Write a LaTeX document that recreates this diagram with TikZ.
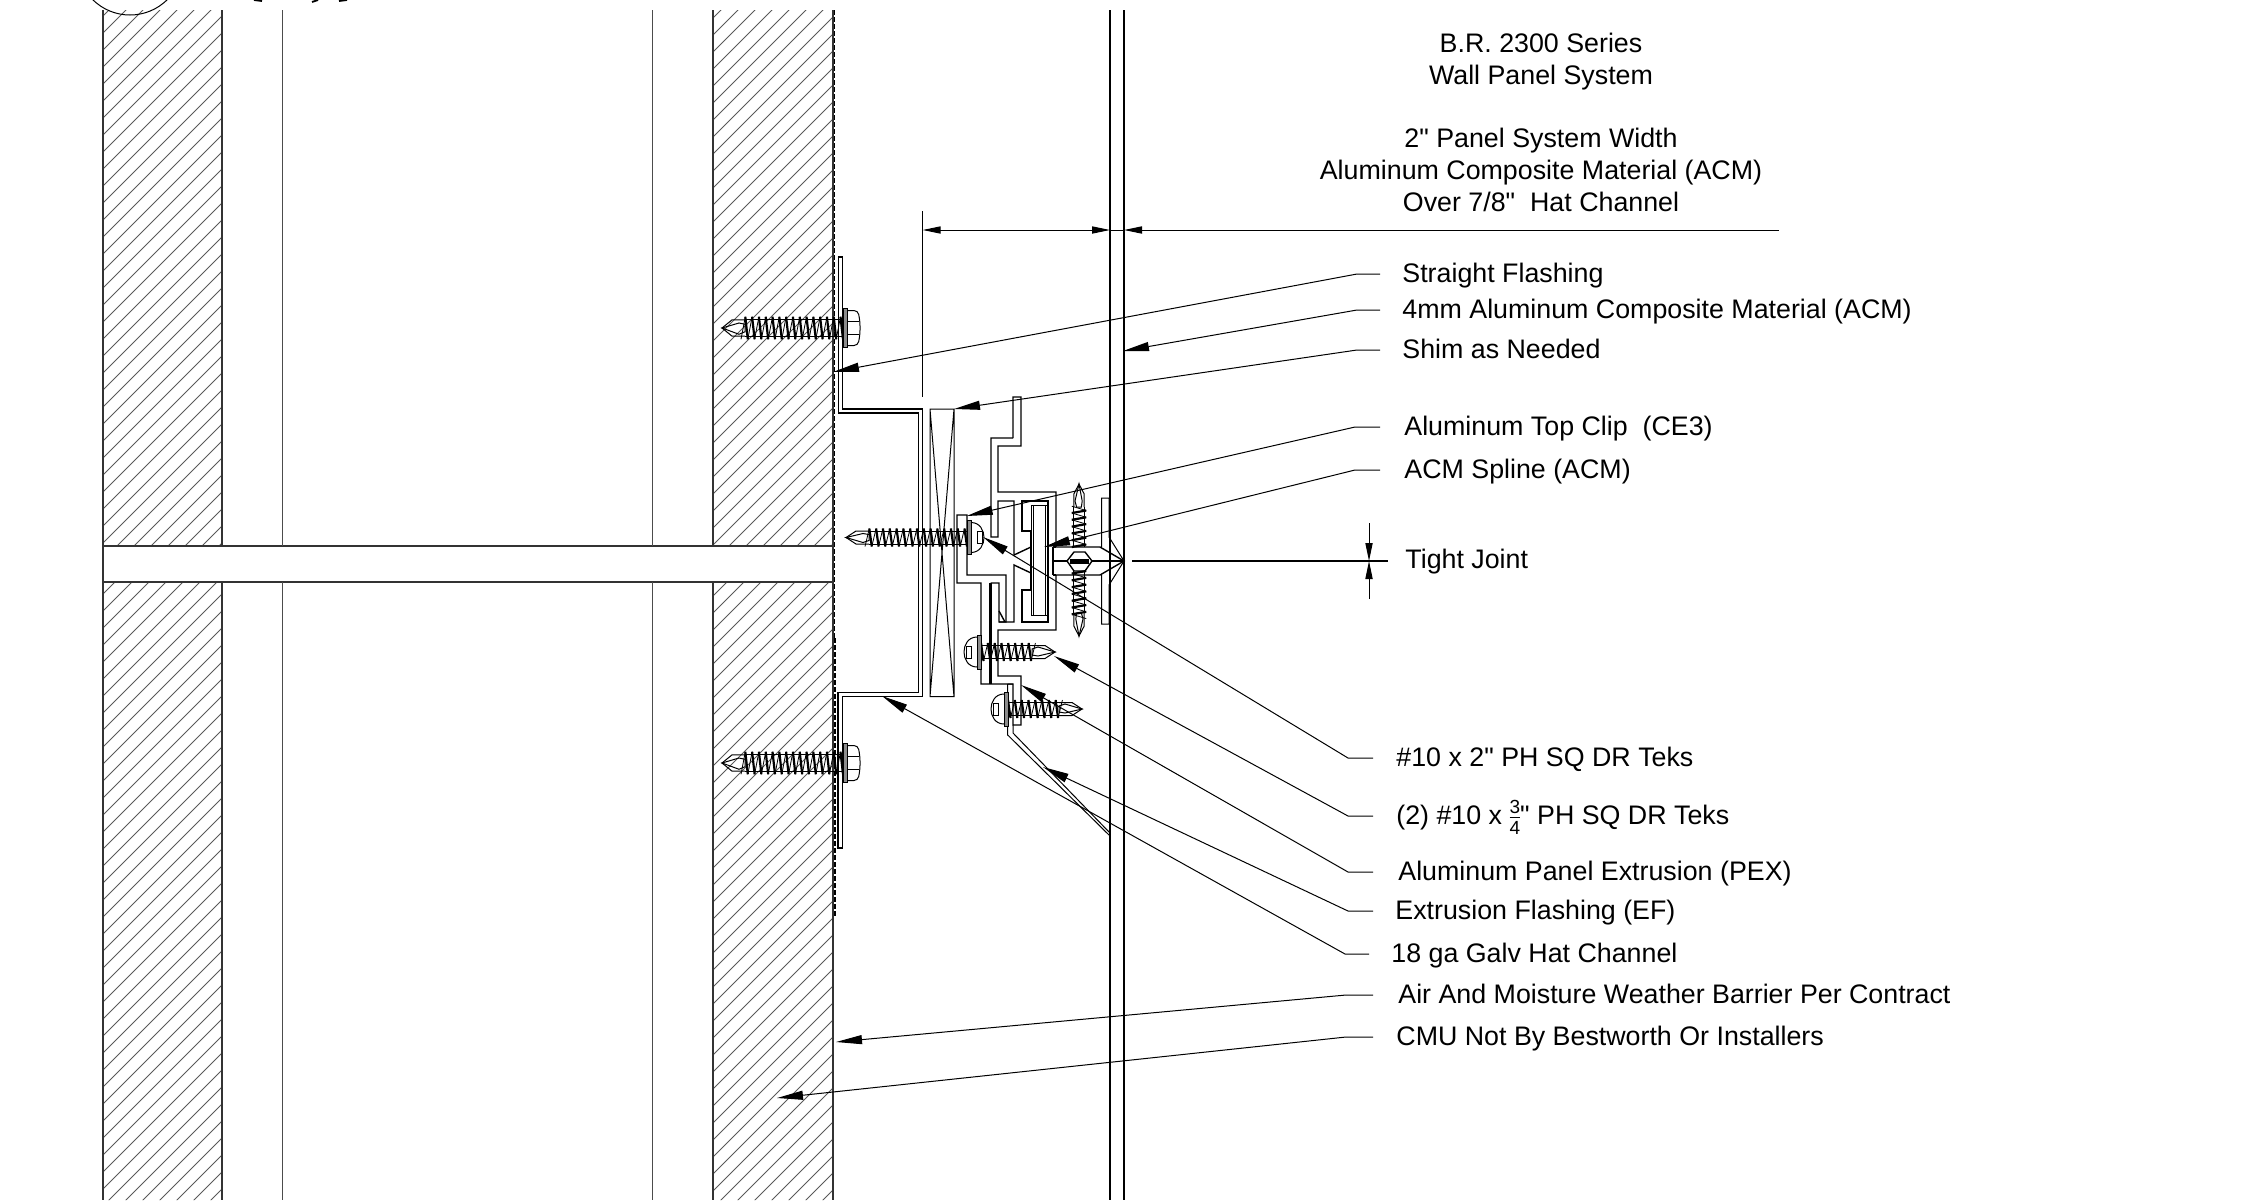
\documentclass[tikz,border=0pt]{standalone}
\usepackage{fontspec}
\newfontfamily\lblfont{Liberation Sans}
\usetikzlibrary{arrows.meta}

\newcommand{\shankrun}[1]{
  \foreach \t in {0,6.8,...,#1} {
    \draw[threadfront] (\t,-9) -- (\t+2.5,9);
    \draw[threadback] (\t+2.5,9) -- (\t+6.8,-9);
  }
  \draw[partthin] (0,-6.5) -- (#1,-6.5) (0,6.5) -- (#1,6.5);
  \draw[partthin] (#1,-6.5) -- (#1+13,-6.5) -- (#1+23,0) -- (#1+13,6.5) -- (#1,6.5);
  \draw[partthin] (#1,-3) -- (#1+6,-5) -- (#1+23,0) -- (#1+6,4) -- (#1,3) -- cycle;
}
\newcommand{\threequarter}{$\vcenter{\hbox{\lblfont\fontsize{9.5pt}{9.5pt}\selectfont 3}\kern1.6pt\hrule\kern1.6pt\hbox{\lblfont\fontsize{9.5pt}{9.5pt}\selectfont 4}}$}

\tikzset{
  x=.5pt, y=-.5pt,
  part/.style={line width=.7pt},
  partthin/.style={line width=.5pt},
  threadfront/.style={line width=1.1pt},
  threadback/.style={line width=.4pt},
  wallline/.style={line width=.85pt, black!80},
  hatchline/.style={line width=.5pt, black!65},
  panelline/.style={line width=1.2pt},
  lbl/.style={anchor=west, inner sep=0pt, text height=10pt, text depth=1.5pt, font=\lblfont\fontsize{13.4pt}{15.9pt}\selectfont},
  leader/.style={line width=.5pt, -{Triangle[length=13pt,width=4.5pt]}},
  dimline/.style={line width=.5pt},
  dimtip/.style={-{Triangle[length=9pt,width=3.6pt]}},
  pics/tekshank/.style={code={
    \shankrun{#1}
  }},
  pics/panscrew/.style={code={
    \shankrun{#1}
    \draw[partthin, fill=black!45] (-4,-17) rectangle (0,17);
    \draw[partthin] (-4,-15) .. controls (-13,-15) and (-17,-7) .. (-17,0) .. controls (-17,7) and (-13,15) .. (-4,15);
    \draw[partthin] (-15,-6) rectangle (-10,6);
  }},
  pics/hexscrew/.style={code={
    \shankrun{#1}
    \draw[partthin, fill=black!45] (-4,-15.5) rectangle (0,15.5);
    \draw[partthin, rounded corners=2pt] (-4,-14) -- (-15,-14) -- (-17,-5) -- (-17,5) -- (-15,14) -- (-4,14);
    \draw[partthin] (-4,-5) -- (-16,-5) (-4,5) -- (-16,5);
  }},
}

\begin{document}
\begin{tikzpicture}
  \useasboundingbox (0,0) rectangle (2248,1200);
  \clip (0,0) rectangle (2248,1200);

  \begin{scope}
    \clip (103,10) rectangle (222,546) (103,582) rectangle (222,1200)
      (713,10) rectangle (833,546) (713,582) rectangle (833,1200);
    \foreach \k in {6,...,120} {
      \draw[hatchline] (17*\k,0) -- (0,17*\k);
    }
  \end{scope}
  \draw[wallline] (103,10) -- (103,1200) (222,10) -- (222,546) (222,582) -- (222,1200)
    (713,10) -- (713,546) (713,582) -- (713,1200) (833,10) -- (833,1200)
    (103,546) -- (833,546) (103,582) -- (833,582);
  \draw[partthin, black!70] (282,10) -- (282,546) (282,582) -- (282,1200)
    (652,10) -- (652,546) (652,582) -- (652,1200);
  \draw[partthin, dash pattern=on 2.5pt off 1pt] (834.5,10) -- (834.5,638);
  \draw[part, dash pattern=on 2.5pt off 1pt] (835,638) -- (835,917);
  \draw[partthin] (130,-38) circle (53);
  \draw[line width=.9pt] (254,0) -- (262,1) (312,2) -- (318,0) (339,1) -- (347,0);

  \draw[panelline] (1110,10) -- (1110,1200) (1124,10) -- (1124,1200);

  \draw[part] (838,848) -- (838,692.7) -- (918.3,692.7) -- (918.3,413) -- (838.7,413) -- (838.7,257)
    -- (842.7,257) -- (842.7,409) -- (922.7,409) -- (922.7,696.7) -- (842.7,696.7) -- (842.7,848) -- cycle;
  \draw[partthin] (930,409) rectangle (954,696.7) (930,409) -- (954,696.7) (954,409) -- (930,696.7);

  \draw[part] (1013,438) -- (1013,397) -- (1021,397) -- (1021,446) -- (998,446) -- (998,492) -- (1056,492)
    -- (1056,547) -- (1100,547) -- (1124,561) -- (1100,575) -- (1056,575) -- (1056,630) -- (998,630)
    -- (998,676) -- (1021,676) -- (1021,725) -- (1013,725) -- (1013,684) -- (981,684) -- (981,583)
    -- (957,583) -- (957,515) -- (967,515) -- (967,575) -- (1006,575) -- (1006,622) -- (999,622) -- (999,583) -- (990.5,583);
  \draw[part] (1013,438) -- (991,438) -- (991,537) -- (998,537) -- (998,501) -- (1014,501) -- (1014,555) -- (1031,547);
  \draw[part] (999,611) -- (1005,622) (999,622) -- (1014,622) -- (1014,565) -- (1031,573);
  \draw[line width=1.1pt] (990.5,583) -- (990.5,684);
  \draw[part] (1031,531) -- (1022,531) -- (1022,501) -- (1048,501) -- (1048,622) -- (1022,622) -- (1022,590) -- (1031,590) -- cycle;
  \draw[partthin] (1031,505) rectangle (1047,615) (1033.5,505) rectangle (1045,615);
  \draw[partthin] (1101.7,547) -- (1101.7,498) -- (1109,498) -- (1109,537) -- (1124,561) -- (1109,585) -- (1109,624) -- (1101.7,624) -- (1101.7,575);
  \draw[part] (1053,547) -- (1053,575) (1053,547) -- (1056,547) (1053,575) -- (1056,575);
  \draw[line width=1pt] (1053,561) -- (1124,561);
  \draw[part, fill=white] (1067,561) -- (1074,552) -- (1085,552) -- (1092,561) -- (1085,571) -- (1074,571) -- cycle;
  \draw[line width=2.5pt] (1070,561) -- (1089,561);
  \draw[partthin] (1007.7,684) -- (1007.7,735) -- (1110,836) (1007.7,684) -- (1013,684) (1013,725) -- (1013,733) -- (1110,833);

  \pic[rotate=180, yscale=1.25] at (843,328) {hexscrew=98};
  \pic[rotate=180, yscale=1.25] at (843,763) {hexscrew=98};
  \pic[rotate=180] at (967,537.5) {panscrew=98};
  \pic at (981,652) {panscrew=51};
  \pic at (1008,709) {panscrew=51};
  \pic[rotate=90, yscale=.8] at (1079,547) {tekshank=40};
  \pic[rotate=-90, yscale=.8] at (1079,571) {tekshank=42};

  \node[align=center, font=\lblfont\fontsize{13.4pt}{15.9pt}\selectfont] (title) at (1541,122.5) {B.R. 2300 Series\\Wall Panel System\\[15.9pt]2" Panel System Width\\Aluminum Composite Material (ACM)\\Over 7/8"\ \ Hat Channel};

  \coordinate (dimleft) at (922.7,230);
  \coordinate (dimmid) at (1110,230);
  \coordinate (dimpanel) at (1124,230);
  \coordinate (dimright) at (1779,230);
  \draw[dimline] (922.7,211) -- (922.7,397);
  \draw[dimline] (dimmid) -- (dimpanel);
  \draw[dimline, {Triangle[length=9pt,width=3.6pt]}-{Triangle[length=9pt,width=3.6pt]}] (dimleft) -- (dimmid);
  \draw[dimline, {Triangle[length=9pt,width=3.6pt]}-] (dimpanel) -- (dimright);

  \node[lbl] (flash) at (1402,274) {Straight Flashing};
  \node[lbl] (acm) at (1402,310) {4mm Aluminum Composite Material (ACM)};
  \node[lbl] (shim) at (1402,350) {Shim as Needed};
  \node[lbl] (clip) at (1404,427) {Aluminum Top Clip\ \ (CE3)};
  \node[lbl] (spline) at (1404,470) {ACM Spline (ACM)};
  \node[lbl] (joint) at (1405,560) {Tight Joint};
  \node[lbl] (tektwo) at (1396,758) {\#10 x 2" PH SQ DR Teks};
  \node[lbl] (tekthree) at (1396,816) {(2) \#10 x \threequarter" PH SQ DR Teks};
  \node[lbl] (pex) at (1398,872) {Aluminum Panel Extrusion (PEX)};
  \node[lbl] (ef) at (1395,911) {Extrusion Flashing (EF)};
  \node[lbl] (hat) at (1391,954) {18 ga Galv Hat Channel};
  \node[lbl] (barrier) at (1398,995) {Air And Moisture Weather Barrier Per Contract};
  \node[lbl] (cmu) at (1396,1037) {CMU Not By Bestworth Or Installers};

  \coordinate (flashtip) at (833,372);
  \coordinate (acmtip) at (1123,351);
  \coordinate (shimtip) at (954,409);
  \coordinate (cliptip) at (966.7,516);
  \coordinate (splinetip) at (1044,547);
  \coordinate (tektwotip) at (983,537);
  \coordinate (tekthreetip) at (1054,656);
  \coordinate (pextip) at (1021,685);
  \coordinate (eftip) at (1043,767);
  \coordinate (hattip) at (882,696);
  \coordinate (barriertip) at (836,1042);
  \coordinate (cmutip) at (777,1098);

  \draw[leader] ([xshift=-11pt]flash.west) -- ++(-23,0) -- (flashtip);
  \draw[leader] ([xshift=-11pt]acm.west) -- ++(-23,0) -- (acmtip);
  \draw[leader] ([xshift=-11pt]shim.west) -- ++(-23,0) -- (shimtip);
  \draw[leader] ([xshift=-12pt]clip.west) -- ++(-25,0) -- (cliptip);
  \draw[leader] ([xshift=-12pt]spline.west) -- ++(-25,0) -- (splinetip);
  \draw[leader] ([xshift=-11.5pt]tektwo.west) -- ++(-25,0) -- (tektwotip);
  \draw[leader] ([xshift=-11.5pt]tekthree.west) -- ++(-25,0) -- (tekthreetip);
  \draw[leader] ([xshift=-12.5pt]pex.west) -- ++(-25,0) -- (pextip);
  \draw[leader] ([xshift=-11pt]ef.west) -- ++(-25,0) -- (eftip);
  \draw[leader] ([xshift=-11pt]hat.west) -- ++(-24,0) -- (hattip);
  \draw[leader] ([xshift=-12.5pt]barrier.west) -- ++(-27,0) -- (barriertip);
  \draw[leader] ([xshift=-11.5pt]cmu.west) -- ++(-27,0) -- (cmutip);

  \coordinate (jointface) at (1132,561);
  \coordinate (jointtop) at (1369,523);
  \coordinate (jointmid) at (1369,561);
  \coordinate (jointbot) at (1369,599);
  \draw[dimline, line width=.7pt] (jointface) -- (1388,561);
  \draw[dimline, dimtip] (jointtop) -- (jointmid);
  \draw[dimline, dimtip] (jointbot) -- (jointmid);
\end{tikzpicture}
\end{document}
